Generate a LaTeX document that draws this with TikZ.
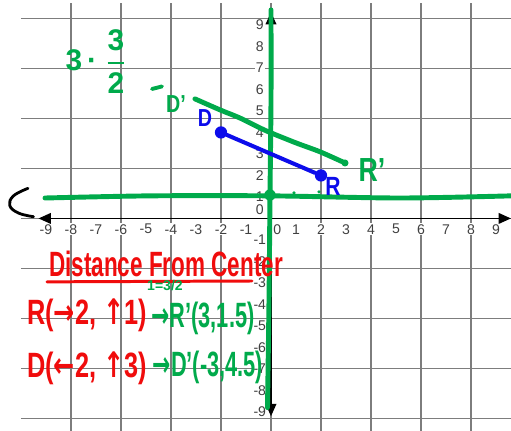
\documentclass[tikz,border=0pt]{standalone}
\usepackage{graphicx}
\usepackage{amsmath}
\usepackage{fontspec}
\setmainfont{Liberation Sans}
\newfontfamily\arrowfont{DejaVu Sans}
\usetikzlibrary{arrows.meta}
\definecolor{penred}{RGB}{240,12,12}
\definecolor{pengreen}{RGB}{0,170,75}
\definecolor{penblue}{RGB}{12,12,235}
\definecolor{gridgray}{RGB}{125,125,125}

\begin{document}
\begin{tikzpicture}[x=0.5cm, y=0.43cm,
    gridline/.style={gridgray, line width=1pt},
    axisline/.style={black, line width=1pt, {Triangle[length=7pt,width=6pt]}-{Triangle[length=7pt,width=6pt]}},
    num/.style={font=\fontsize{8}{9}\selectfont, text=black!75, fill=white, inner sep=0.6pt},
    gline/.style={pengreen, line width=2.8pt, line cap=round, line join=round},
    bline/.style={penblue, line width=2.3pt, line cap=round},
    rline/.style={penred, line width=1.7pt, line cap=round},
    penpt/.style={circle, fill, inner sep=0pt, minimum size=#1},
    hand/.style={font=\fontsize{#1}{#1}\selectfont\bfseries, inner sep=0pt}
]
\useasboundingbox (-10.84,-9.88) rectangle (9.6,10.16);

% Graph paper
\draw[gridline] (-10,-9.88) grid (9.6,10);
\foreach \i in {-9,...,-1,1,2,...,9}
    \node[num] (xn\i) at (\i,-0.5) {\i};
\node[num] (xn0) at (0.25,-0.5) {0};
\foreach \i in {-9,...,-1,1,2,...,9}
    \node[num] (yn\i) at (-0.45,\i) {\i};
\node[num] (yn0) at (-0.45,0.4) {0};

% Axes
\coordinate (xl) at (-9.3,0);
\coordinate (xr) at (9.6,0);
\coordinate (yb) at (0,-9.2);
\coordinate (yt) at (0,9.6);
\draw[axisline] (xl) -- (xr);
\draw[axisline] (yb) -- (yt);
\draw[black, line width=1.6pt, line cap=round] plot[smooth, tension=0.7]
    coordinates {(-9.72,1.4) (-10.3,1.05) (-10.45,0.6) (-10.1,0.25) (-9.5,0.08)};

% Shifted axes (green)
\draw[gline] plot[smooth, tension=0.5]
    coordinates {(0,9.7) (0,5.5) (-0.04,1.09) (-0.08,-3.8) (-0.14,-8.8)};
\draw[gline] plot[smooth, tension=0.5]
    coordinates {(-9.04,0.95) (-4.84,1.05) (0,1.05) (5.16,0.95) (9.6,1.05)};
\node[penpt=6.5pt, pengreen] (cen) at (-0.04,1.09) {};
\node[penpt=2pt, pengreen] (g1) at (0.92,1.19) {};
\node[penpt=2pt, pengreen] (g2) at (1.92,1.23) {};

% Image D'R'
\coordinate (Dp) at (-3.04,5.56);
\coordinate (Rp) at (2.96,2.58);
\draw[gline] plot[smooth, tension=0.5]
    coordinates {(Dp) (-2.04,5.05) (-1.24,4.67) (-0.44,4.21) (0,3.98) (1.03,3.5) (1.96,3.1) (Rp)};
\node[penpt=4pt, pengreen] (Rpd) at (Rp) {};
\node[hand=14, pengreen] (Dplbl) at (-3.8,5.3) {\scalebox{0.8}[1]{D'}};
\draw[gline, line width=2.2pt] (-4.76,6.02) -- (-4.36,6.14);
\node[hand=19, pengreen] (Rplbl) at (4.04,2.26) {\scalebox{0.8}[1]{R'}};
\node[pengreen, font=\fontsize{17}{19}\selectfont\bfseries] (fac) at (-7.0,7.3)
    {$\textbf{3}\,\textbf{·}\;\genfrac{}{}{1.6pt}{0}{\textbf{3}}{\textbf{2}}$};

% Original DR
\node[penpt=7pt, penblue] (D) at (-2,4) {};
\node[penpt=7pt, penblue] (R) at (2,2) {};
\draw[bline] (D) -- (R);
\node[hand=14, penblue] (Dlbl) at (-2.64,4.67) {\scalebox{0.8}[1]{D}};
\node[hand=15, penblue] (Rlbl) at (2.48,1.47) {\scalebox{0.8}[1]{R}};

% Notes
\node[hand=20, penred] (title) at (-4.2,-2.12) {\scalebox{0.64}[1]{Distance From Center}};
\draw[rline] (-8.96,-2.95) -- (-0.76,-2.91);
\node[hand=20, penred] (Rmove) at (-7.36,-4.49) {\scalebox{0.72}[1]{R({\arrowfont →}2, {\arrowfont ↑}1)}};
\node[hand=20, penred] (Dmove) at (-7.36,-6.95) {\scalebox{0.72}[1]{D({\arrowfont ←}2, {\arrowfont ↑}3)}};
\node[hand=8, pengreen] (ratio) at (-4.24,-3.14) {1=3/2};
\node[hand=20, pengreen] (Rnew) at (-2.72,-4.63) {\scalebox{0.62}[1]{{\arrowfont →}R'(3,1.5)}};
\node[hand=20, pengreen] (Dnew) at (-2.52,-6.95) {\scalebox{0.62}[1]{{\arrowfont →}D'(-3,4.5)}};

\end{tikzpicture}
\end{document}
